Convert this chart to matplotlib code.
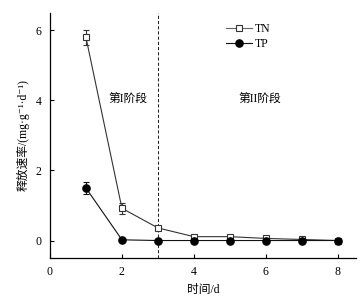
import matplotlib
matplotlib.use("Agg")
import matplotlib.pyplot as plt
from matplotlib.lines import Line2D

days = [1, 2, 3, 4, 5, 6, 7, 8]
tn = [5.8, 0.92, 0.36, 0.11, 0.11, 0.06, 0.03, 0.0]
tn_err = [0.22, 0.16, 0.05, 0.04, 0.04, 0.04, 0.04, 0.02]
tp = [1.5, 0.02, 0.0, 0.0, 0.0, 0.0, 0.0, 0.0]
tp_err = [0.18, 0.02, 0.02, 0.02, 0.02, 0.02, 0.02, 0.02]
xticks = [0, 2, 4, 6, 8]
yticks = [0, 2, 4, 6]

plt.rcParams['font.family'] = ['Liberation Serif', 'Noto Sans CJK SC', 'DejaVu Sans']
plt.rcParams['font.size'] = 8.5

fig = plt.figure(figsize=(3.62, 2.99), dpi=100)
ax = fig.add_axes([0.138, 0.137, 0.845, 0.82])

ax.errorbar(days, tn, yerr=tn_err, color='#333333', lw=0.8, marker='s', ms=5,
            mfc='white', mec='#333333', mew=0.8, capsize=2.5, elinewidth=0.8,
            capthick=0.8, zorder=3)
ax.errorbar(days, tp, yerr=tp_err, color='#111111', lw=0.8, marker='o', ms=5.2,
            mfc='black', mec='black', capsize=2.5, elinewidth=0.8,
            capthick=0.8, zorder=4)

ax.axvline(3, color='#222222', lw=0.75, ls=(0, (3, 2)), zorder=1)

ax.text(2.17, 4.06, '第I阶段', ha='center', va='center', fontsize=8.5)
ax.text(5.83, 4.06, '第II阶段', ha='center', va='center', fontsize=8.5)

ax.set_xlim(0, 8.5)
ax.set_ylim(-0.5, 6.5)
ax.set_xticks(xticks)
ax.set_yticks(yticks)
ax.tick_params(direction='in', length=3, width=0.8, pad=6)
for s in ['top', 'right']:
    ax.spines[s].set_visible(False)
for s in ['left', 'bottom']:
    ax.spines[s].set_linewidth(0.9)

ax.set_xlabel('时间/d', labelpad=4)
ax.set_ylabel('释放速率/(mg·g⁻¹·d⁻¹)', labelpad=4)

handles = [
    Line2D([], [], color='#666666', lw=0.8, marker='s', ms=5, mfc='white',
           mec='#333333', mew=0.8),
    Line2D([], [], color='#111111', lw=0.8, marker='o', ms=5.2, mfc='black',
           mec='black'),
]
ax.legend(handles, ['TN', 'TP'], loc='upper left', bbox_to_anchor=(0.54, 1.0),
          frameon=False, handlelength=2.2, handletextpad=0.3, labelspacing=0.25)

fig.savefig('out.png', dpi=100)
